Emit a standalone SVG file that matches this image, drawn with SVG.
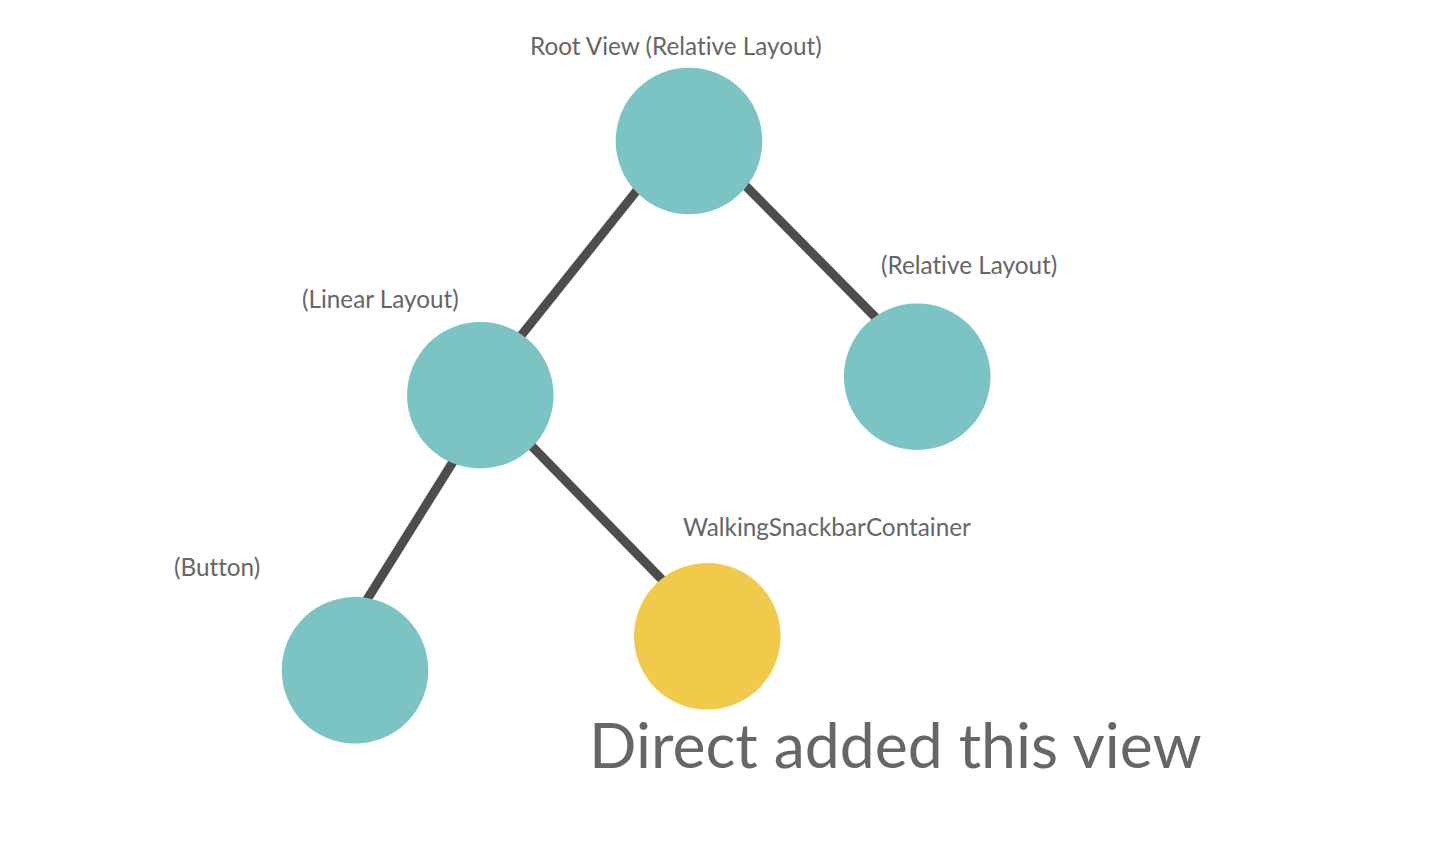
<svg xmlns="http://www.w3.org/2000/svg" width="1434" height="854" viewBox="0 0 1434 854">
<style>
  .edge { stroke: #4d4d4d; stroke-width: 9; fill: none; }
  .teal { fill: #7cc4c3; }
  .yellow { fill: #f2ca4b; }
  .lbl { font-family: Lato, "Liberation Sans", sans-serif; font-size: 24.3px; fill: #666666; font-variant-ligatures: none; }
  .big { font-family: Lato, "Liberation Sans", sans-serif; font-size: 62.5px; fill: #666666; font-variant-ligatures: none; }
</style>
<rect width="1434" height="854" fill="#ffffff"/>
<g id="connectors">
  <line class="edge" x1="650" y1="174" x2="508" y2="352"/>
  <line class="edge" x1="730" y1="170" x2="888" y2="330"/>
  <line class="edge" x1="461" y1="449" x2="358" y2="614"/>
  <line class="edge" x1="520" y1="434" x2="676" y2="594"/>
</g>
<g id="root">
  <circle class="teal" cx="689" cy="141" r="73.3"/>
  <text class="lbl" x="530" y="55">Root View (Relative Layout)</text>
</g>
<g id="linear">
  <circle class="teal" cx="480.3" cy="395.2" r="73.3"/>
  <text class="lbl" x="302" y="308">(Linear Layout)</text>
</g>
<g id="relative">
  <circle class="teal" cx="917.2" cy="376.7" r="73.3"/>
  <text class="lbl" x="881" y="274">(Relative Layout)</text>
</g>
<g id="button">
  <circle class="teal" cx="355" cy="670.3" r="73.3"/>
  <text class="lbl" x="174" y="576">(Button)</text>
</g>
<g id="snackbar">
  <circle class="yellow" cx="707.3" cy="636.3" r="73.3"/>
  <text class="lbl" x="683" y="536">WalkingSnackbarContainer</text>
</g>
<g id="caption">
  <text class="big" x="589" y="768">Direct added this view</text>
</g>
</svg>
